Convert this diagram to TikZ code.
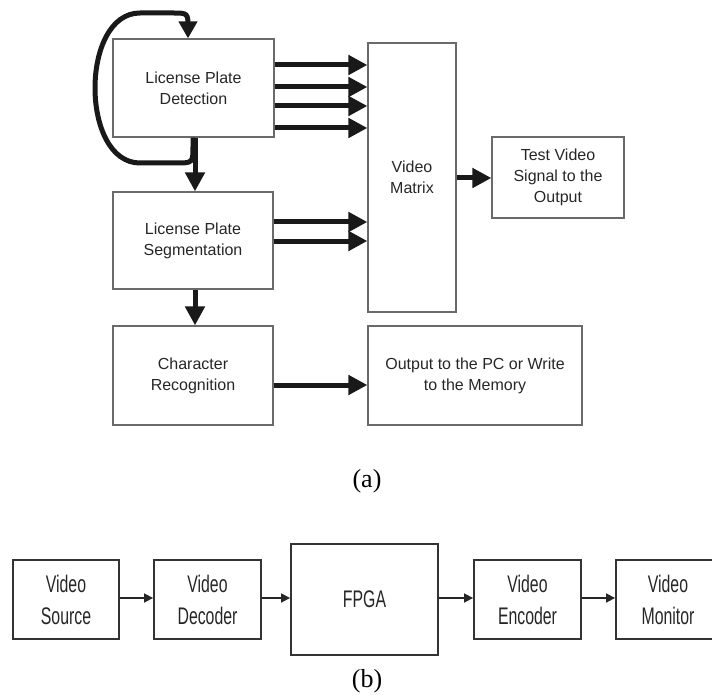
\documentclass[tikz,border=0pt]{standalone}
\usepackage{fontspec}
\setmainfont{Liberation Sans}
\newfontfamily\narrowsans[FakeStretch=0.66]{Liberation Sans}
\newfontfamily\capfont{Liberation Serif}
\usetikzlibrary{arrows.meta}
\definecolor{boxgray}{HTML}{6A6A6A}
\definecolor{txtgray}{HTML}{262626}
\tikzset{
  topbox/.style={draw=boxgray, line width=1.2pt, inner sep=0pt, align=center,
    text=txtgray, font=\fontsize{16}{21}\selectfont},
  botbox/.style={draw=black!80, line width=1.8pt, inner sep=0pt, align=center,
    text=txtgray, font=\narrowsans\fontsize{24}{32}\selectfont},
  bigarrow/.style={line width=5pt, black!90, -{Triangle[length=19pt,width=19pt]}},
  smallarrow/.style={line width=1.6pt, black!85, -{Triangle[length=9pt,width=9pt]}},
  caplabel/.style={font=\capfont\fontsize{26}{30}\selectfont, text=black}
}
\begin{document}
\begin{tikzpicture}[x=1pt,y=-1pt]
\useasboundingbox (0,0) rectangle (712,695);
% (a)
\node[topbox, minimum width=161pt, minimum height=98pt] (lpd) at (193.5,88) {License Plate\\Detection};
\node[topbox, minimum width=160pt, minimum height=97pt] (lps) at (193,240.5) {License Plate\\Segmentation};
\node[topbox, minimum width=160pt, minimum height=99pt] (cr) at (193,375.5) {Character\\Recognition};
\node[topbox, minimum width=88pt, minimum height=269pt] (vm) at (412,177.5) {Video\\Matrix};
\node[topbox, minimum width=132pt, minimum height=81pt] (tv) at (558,177.5) {Test Video\\Signal to the\\Output};
\node[topbox, minimum width=214pt, minimum height=99pt] (out) at (475,375.5) {Output to the PC or Write\\to the Memory};

\foreach \yy in {65,87,106,128}
  \draw[bigarrow] (lpd.east |- 0,\yy) -- (vm.west |- 0,\yy);
\foreach \yy in {222,241}
  \draw[bigarrow] (lps.east |- 0,\yy) -- (vm.west |- 0,\yy);
\draw[bigarrow] (cr.east |- 0,385) -- (out.west |- 0,385);
\draw[bigarrow] (vm.east |- 0,178) -- (tv.west |- 0,178);
\draw[bigarrow] (lpd.south -| 195,0) -- (lps.north -| 195,0);
\draw[bigarrow] (lps.south -| 195,0) -- (cr.north -| 195,0);
\draw[line width=5pt, black!90, -{Triangle[length=17pt,width=18pt]}]
  (lpd.south -| 193,0) -- (193,145) .. controls (193,163) .. (176,163) -- (140,163)
  .. controls (80,163) and (80,13) .. (140,13) -- (172,13)
  .. controls (188,13) .. (188,28) -- (lpd.north -| 188,0);

\node[caplabel] (capa) at (367,481) {(a)};

% (b)
\node[botbox, minimum width=106pt, minimum height=79pt] (vs) at (66,599.5) {Video\\Source};
\node[botbox, minimum width=107pt, minimum height=79pt] (vd) at (207.5,599.5) {Video\\Decoder};
\node[botbox, minimum width=147pt, minimum height=111pt] (fpga) at (364.5,599.5) {FPGA};
\node[botbox, minimum width=107pt, minimum height=79pt] (ve) at (527.5,599.5) {Video\\Encoder};
\node[botbox, minimum width=104pt, minimum height=79pt] (mon) at (668,599.5) {Video\\Monitor};
\draw[smallarrow] (vs.east |- 0,598) -- (vd.west |- 0,598);
\draw[smallarrow] (vd.east |- 0,598) -- (fpga.west |- 0,598);
\draw[smallarrow] (fpga.east |- 0,598) -- (ve.west |- 0,598);
\draw[smallarrow] (ve.east |- 0,598) -- (mon.west |- 0,598);

\node[caplabel] (capb) at (367,681) {(b)};
\end{tikzpicture}
\end{document}
